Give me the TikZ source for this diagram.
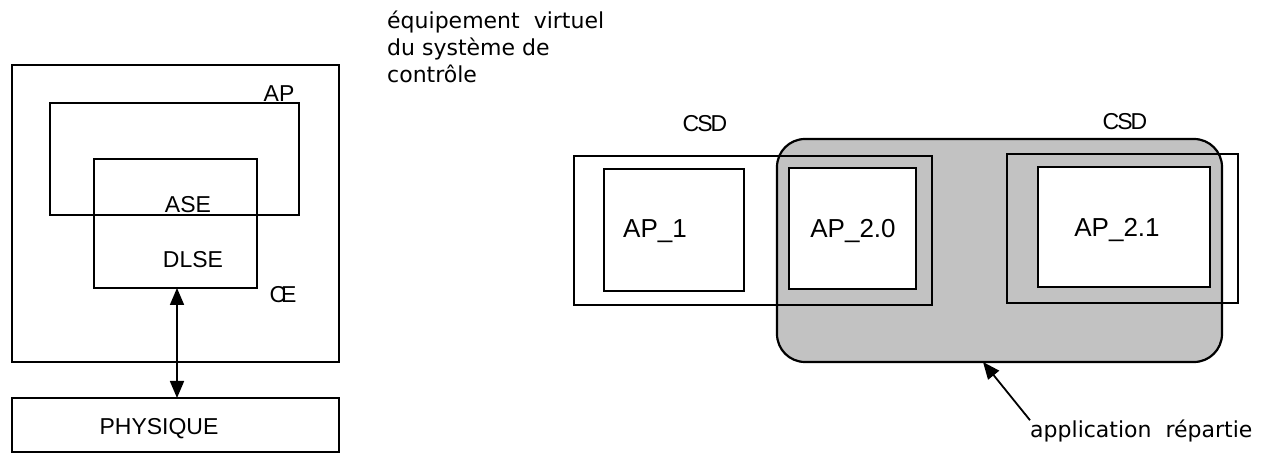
\documentclass[tikz,border=0pt]{standalone}
\usepackage{fontspec}
\setmainfont{Liberation Sans}
\newfontfamily\dejavu{DejaVu Sans}
\usetikzlibrary{arrows.meta}
\definecolor{stipple}{gray}{0.76}
\tikzset{
  box/.style={draw=black, line width=2.2pt, inner sep=0pt, outer sep=0pt},
  wbox/.style={box, fill=white},
  cond/.style={inner sep=0pt, font=\fontsize{23}{27}\selectfont},
  aplab/.style={inner sep=0pt, font=\fontsize{26}{30}\selectfont},
  txt/.style={inner sep=0pt, font=\dejavu\fontsize{22}{27}\selectfont},
  conn/.style={line width=1.8pt},
  tri/.tip={Triangle[width=14pt,length=17pt]}
}
\begin{document}
\begin{tikzpicture}[x=1pt,y=-1pt]
\useasboundingbox (0,0) rectangle (1270,454);
% ---------- left part ----------
\node[box, minimum width=327pt, minimum height=297pt] (outer) at (175.5,213.5) {};
\node[box, minimum width=249pt, minimum height=112pt] (apbox) at (174.5,159) {};
\node[box, minimum width=163pt, minimum height=129pt] (cebox) at (175.5,223.5) {};
\node[box, minimum width=327pt, minimum height=54pt] (phys) at (175.5,425) {};
\node[cond, anchor=base] (aplabel) at (279,102) {AP};
\node[cond, anchor=base] (ase) at (188,213) {ASE};
\node[cond, anchor=base] (dlse) at (193,268) {DLSE};
\node[cond, anchor=base] (celabel) at (283,303) {C\kern-5pt E};
\node[cond, anchor=base] (physlabel) at (159,435) {PHYSIQUE};
\draw[conn, tri-tri] ([xshift=1.5pt]cebox.south) -- ([xshift=1.5pt]cebox.south |- phys.north);
% ---------- top text ----------
\node[txt, anchor=base west] (l1) at (387,29) {équipement\ \ virtuel};
\node[txt, anchor=base west] (l2) at (387,56) {du système de};
\node[txt, anchor=base west] (l3) at (387,83) {contrôle};
% ---------- right part ----------
\node[box, minimum width=358pt, minimum height=149pt] (csd1) at (753,230.5) {};
\node[box, fill=stipple, rounded corners=28pt, minimum width=445pt, minimum height=223pt] (shade) at (999.5,250.5) {};
\node[box, minimum width=358pt, minimum height=149pt] (csd1b) at (753,230.5) {};
\node[box, minimum width=231pt, minimum height=149pt] (csd2) at (1122.5,228.5) {};
\node[wbox, minimum width=140pt, minimum height=122pt] (ap1) at (674,230) {};
\node[wbox, minimum width=127pt, minimum height=121pt] (ap20) at (852.5,228.5) {};
\node[wbox, minimum width=172pt, minimum height=120pt] (ap21) at (1124,227) {};
\node[aplab, anchor=base] (ap1l) at (655,238) {AP\_1};
\node[aplab, anchor=base] (ap20l) at (853,238) {AP\_2.0};
\node[aplab, anchor=base] (ap21l) at (1117,237) {AP\_2.1};
\node[cond, anchor=base] (csdl1) at (705,132) {C\kern-2pt S\kern-2pt D};
\node[cond, anchor=base] (csdl2) at (1125,130) {C\kern-2pt S\kern-2pt D};
\node[txt, anchor=base west] (appl) at (1030,438) {application\ \ répartie};
\coordinate (tip) at (983,362);
\draw[conn, -tri] (appl.north west) -- (tip);
\end{tikzpicture}
\end{document}
